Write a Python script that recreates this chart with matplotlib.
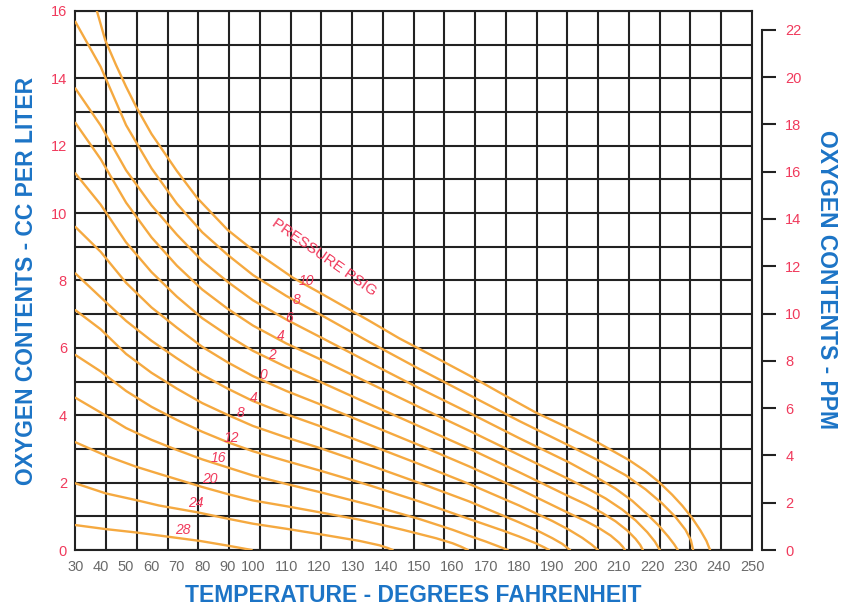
import numpy as np
import matplotlib
matplotlib.use('Agg')
import matplotlib.pyplot as plt
from matplotlib.ticker import FixedLocator, MultipleLocator

plt.rcParams['font.family'] = ['Liberation Sans', 'DejaVu Sans']

# ---------------- data (temperature degF, oxygen cc/L) ----------------
temp_p10 = [38.5, 41.8, 46, 50, 54, 60, 70, 78, 90, 100, 112, 120, 135, 144, 150, 165, 174, 185, 194, 204, 213, 218, 222, 226, 229, 232, 234.5, 236.3, 237.4]
cc_p10 = [16.0, 15.13, 14.4, 13.75, 13.15, 12.35, 11.25, 10.45, 9.5, 8.9, 8.08, 7.64, 6.8, 6.28, 5.97, 5.18, 4.68, 4.08, 3.66, 3.17, 2.67, 2.34, 2.02, 1.64, 1.32, 0.95, 0.58, 0.27, 0]

temp_p8 = [30, 40, 50, 60, 70, 80, 90, 100, 110, 120, 135, 150, 165, 180, 195, 205, 212, 218, 223, 227, 230, 231.6, 232.3]
cc_p8 = [15.68, 14.34, 12.61, 11.33, 10.28, 9.43, 8.76, 8.16, 7.54, 7.0, 6.17, 5.37, 4.60, 3.83, 3.10, 2.60, 2.22, 1.80, 1.38, 0.98, 0.6, 0.3, 0]

temp_p6 = [30, 40, 50, 60, 70, 80, 90, 100, 110, 120, 135, 150, 165, 180, 195, 203, 209, 214, 218.5, 222, 224.8, 226.6, 227.7]
cc_p6 = [13.70, 12.6, 11.27, 10.23, 9.36, 8.58, 7.96, 7.41, 6.84, 6.33, 5.56, 4.80, 4.07, 3.32, 2.60, 2.17, 1.82, 1.46, 1.06, 0.72, 0.40, 0.17, 0]

temp_p4 = [30, 40, 50, 60, 70, 80, 90, 100, 110, 120, 135, 150, 165, 180, 195, 201, 206, 211, 215, 218.5, 220.8, 222.3]
cc_p4 = [12.68, 11.6, 10.31, 9.28, 8.44, 7.73, 7.16, 6.66, 6.13, 5.67, 4.95, 4.24, 3.54, 2.82, 2.10, 1.80, 1.53, 1.20, 0.88, 0.53, 0.25, 0]

temp_p2 = [30, 40, 50, 60, 70, 80, 90, 100, 110, 120, 135, 150, 165, 180, 195, 200, 205, 209, 212.5, 215, 216.4, 217.2]
cc_p2 = [11.18, 10.25, 9.13, 8.25, 7.52, 6.88, 6.37, 5.91, 5.43, 5.00, 4.33, 3.67, 3.01, 2.31, 1.59, 1.36, 1.10, 0.85, 0.58, 0.33, 0.15, 0]

temp_p0 = [30, 40, 50, 60, 70, 80, 90, 100, 110, 120, 135, 150, 165, 180, 195, 200, 204, 207.5, 210, 211.2, 211.8]
cc_p0 = [9.59, 8.85, 7.93, 7.20, 6.60, 6.03, 5.57, 5.16, 4.72, 4.33, 3.72, 3.11, 2.48, 1.81, 1.09, 0.86, 0.65, 0.43, 0.22, 0.09, 0]

temp_v4 = [30, 40, 50, 60, 70, 80, 90, 100, 110, 120, 135, 150, 165, 180, 190, 195, 199, 201.8, 203.7]
cc_v4 = [8.21, 7.5, 6.80, 6.21, 5.69, 5.20, 4.79, 4.42, 4.03, 3.68, 3.12, 2.55, 1.96, 1.32, 0.86, 0.6, 0.36, 0.16, 0]

temp_v8 = [30, 40, 50, 60, 70, 80, 90, 100, 110, 120, 135, 150, 165, 180, 185, 190, 193, 195.3]
cc_v8 = [7.12, 6.55, 5.82, 5.26, 4.79, 4.36, 4.01, 3.68, 3.34, 3.03, 2.52, 1.99, 1.44, 0.82, 0.6, 0.35, 0.18, 0]

temp_v12 = [30, 40, 50, 60, 70, 80, 90, 100, 110, 120, 135, 150, 165, 175, 180, 185, 187.5, 189]
cc_v12 = [5.79, 5.3, 4.72, 4.25, 3.86, 3.51, 3.20, 2.93, 2.64, 2.36, 1.92, 1.44, 0.92, 0.58, 0.40, 0.2, 0.08, 0]

temp_v16 = [30, 40, 50, 60, 70, 80, 90, 100, 110, 120, 135, 150, 160, 165, 170, 174, 176.6]
cc_v16 = [4.52, 4.08, 3.62, 3.27, 2.97, 2.69, 2.45, 2.21, 1.96, 1.72, 1.34, 0.92, 0.6, 0.42, 0.25, 0.1, 0]

temp_v20 = [30, 42, 54, 63, 70, 80, 90, 100, 110, 120, 132, 145, 155, 160, 162.5, 164.6]
cc_v20 = [3.20, 2.80, 2.47, 2.26, 2.10, 1.87, 1.66, 1.47, 1.30, 1.12, 0.9, 0.6, 0.35, 0.2, 0.1, 0]

temp_v24 = [30, 42, 54, 63, 78, 90, 100, 110, 120, 132, 138, 140.5, 142]
cc_v24 = [1.98, 1.68, 1.48, 1.32, 1.12, 0.93, 0.78, 0.63, 0.47, 0.27, 0.14, 0.06, 0]

temp_v28 = [30, 42, 54, 63, 79, 90, 99.5]
cc_v28 = [0.74, 0.62, 0.52, 0.43, 0.27, 0.13, 0]

curve_labels = ['10', '8', '6', '4', '2', '0', '4', '8', '12', '16', '20', '24', '28']
label_temp = [116.1, 113.1, 110.9, 108.4, 105.6, 103.1, 100.1, 95.1, 91.3, 86.3, 83.1, 77.5, 72.5]
label_cc = [7.98, 7.42, 6.88, 6.35, 5.79, 5.19, 4.50, 4.06, 3.32, 2.73, 2.11, 1.40, 0.59]

x_ticks = list(range(30, 251, 10))
left_ticks = list(range(0, 17, 2))
right_ticks = list(range(0, 23, 2))

curves = [(temp_p10, cc_p10), (temp_p8, cc_p8), (temp_p6, cc_p6), (temp_p4, cc_p4),
          (temp_p2, cc_p2), (temp_p0, cc_p0), (temp_v4, cc_v4), (temp_v8, cc_v8),
          (temp_v12, cc_v12), (temp_v16, cc_v16), (temp_v20, cc_v20),
          (temp_v24, cc_v24), (temp_v28, cc_v28)]

# ---------------- styling ----------------
RED = '#f03a5c'
BLUE = '#1c74c6'
ORANGE = '#f5a940'
GRID = '#222222'

W, H = 844, 607
fig = plt.figure(figsize=(W / 100, H / 100), dpi=100)
L, R, T, B = 75.3, 752.0, 10.9, 550.0
ax = fig.add_axes([L / W, 1 - B / H, (R - L) / W, (B - T) / H])


# the printed temperature scale is piecewise: 30-100 and 100-250 spacing differ
def fwd(t):
    t = np.asarray(t, dtype=float)
    return np.where(t <= 100, (t - 30) * 2.539, 177.73 + (t - 100) * 3.3267)


def inv(u):
    u = np.asarray(u, dtype=float)
    return np.where(u <= 177.73, 30 + u / 2.539, 100 + (u - 177.73) / 3.3267)


ax.set_xscale('function', functions=(fwd, inv))
ax.set_xlim(30, 250)
ax.set_ylim(0, 16)

# uniform grid columns (22 equal columns across the plot)
grid_cols = inv(np.linspace(0, float(fwd(250)), 23))
ax.xaxis.set_major_locator(FixedLocator(x_ticks))
ax.xaxis.set_minor_locator(FixedLocator(grid_cols))
ax.yaxis.set_major_locator(FixedLocator(left_ticks))
ax.yaxis.set_minor_locator(MultipleLocator(1))
ax.xaxis.grid(False, which='major')
ax.xaxis.grid(True, which='minor', color=GRID, lw=1.5)
ax.yaxis.grid(True, which='both', color=GRID, lw=1.5)
for s in ax.spines.values():
    s.set_color(GRID)
    s.set_linewidth(1.5)

ax.tick_params(axis='both', which='both', length=0)
ax.tick_params(axis='x', labelsize=10.5, labelcolor='#6a6a6a', pad=7)
ax.tick_params(axis='y', labelsize=10.5, labelcolor=RED, pad=6)

for tx, cy in curves:
    ax.plot(tx, cy, color=ORANGE, lw=1.7, solid_joinstyle='round',
            solid_capstyle='round', zorder=3)

for lab, lt, lc in zip(curve_labels, label_temp, label_cc):
    ax.text(lt, lc, lab, color=RED, fontsize=10, style='italic',
            ha='center', va='center', zorder=4)
ax.text(121.3, 8.68, 'PRESSURE PSIG', color=RED, fontsize=11, rotation=-35,
        ha='center', va='center', zorder=4)

# right axis in ppm
ax2 = ax.twinx()
ax2.set_ylim(0, 22.8)
ax2.yaxis.set_major_locator(FixedLocator(right_ticks))
for side in ['left', 'top', 'bottom']:
    ax2.spines[side].set_visible(False)
ax2.spines['right'].set_position(('outward', 7))
ax2.spines['right'].set_bounds(0, 22)
ax2.spines['right'].set_color(GRID)
ax2.spines['right'].set_linewidth(1.5)
ax2.tick_params(axis='y', length=10, width=1.5, color=GRID, labelsize=10.5,
                labelcolor=RED, pad=7)

fig.text(413 / W, 1 - 596 / H, 'TEMPERATURE - DEGREES FAHRENHEIT', color=BLUE,
         fontsize=16.5, fontweight='bold', ha='center', va='center')
fig.text(27 / W, 1 - 281 / H, 'OXYGEN CONTENTS - CC PER LITER', color=BLUE,
         fontsize=16.5, fontweight='bold', ha='center', va='center', rotation=90)
fig.text(827 / W, 1 - 280 / H, 'OXYGEN CONTENTS - PPM', color=BLUE,
         fontsize=16.5, fontweight='bold', ha='center', va='center', rotation=270)

fig.savefig('out.png', dpi=100)
